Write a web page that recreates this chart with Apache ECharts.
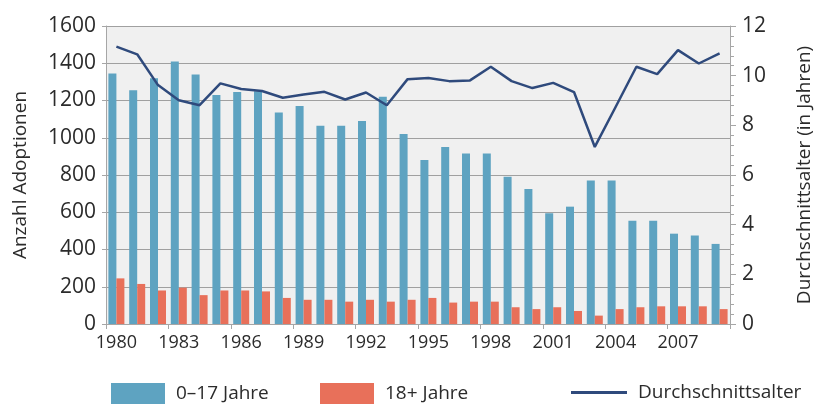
<!DOCTYPE html>
<html>
<head>
<meta charset="utf-8">
<script src="https://cdn.jsdelivr.net/npm/echarts@6/dist/echarts.min.js"></script>
<style>
  html, body { margin: 0; padding: 0; background: #fff; }
  #chart { width: 822px; height: 405px; }
</style>
</head>
<body>
<div id="chart"></div>
<script>
// Jahre 1980 - 2009
const years = [];
for (let y = 1980; y <= 2009; y++) years.push(String(y));

// Adoptionen 0-17 Jahre
const kinder = [1345, 1255, 1320, 1410, 1340, 1230, 1245, 1250, 1135, 1170,
                1065, 1065, 1090, 1220, 1020, 880, 950, 915, 915, 790,
                725, 595, 630, 770, 770, 555, 555, 485, 475, 430];

// Adoptionen 18+ Jahre
const erwachsene = [245, 215, 180, 195, 155, 180, 180, 175, 140, 130,
                    130, 120, 130, 120, 130, 140, 115, 120, 120, 90,
                    80, 90, 70, 45, 80, 90, 95, 95, 95, 80];

// Durchschnittsalter (in Jahren)
const alter = [11.17, 10.86, 9.62, 9.01, 8.81, 9.69, 9.46, 9.38, 9.11, 9.24,
               9.35, 9.04, 9.32, 8.81, 9.86, 9.91, 9.78, 9.81, 10.36, 9.78,
               9.50, 9.71, 9.34, 7.13, 8.74, 10.36, 10.06, 11.03, 10.49, 10.90];

const font = '"Open Sans", "Noto Sans", sans-serif';
const textColor = '#2b2b2b';
const axisGray = '#a6a6a6';
const blau = '#5ea3c1';
const rot = '#e8705a';
const navy = '#2f4a7c';

const chart = echarts.init(document.getElementById('chart'));

const legendText = { fontFamily: font, fontSize: 19, color: textColor, padding: [0, 0, 0, 6] };

chart.setOption({
    animation: false,
    textStyle: { fontFamily: font },
    grid: {
        left: 106, right: 80, top: 26, bottom: 81,
        show: true,
        backgroundColor: '#f0f0f0',
        borderWidth: 0
    },
    legend: [
        {
            data: [{ name: '0–17 Jahre', icon: 'rect' }], left: 106, top: 378,
            itemWidth: 54, itemHeight: 21, itemGap: 0,
            textStyle: legendText
        },
        {
            data: [{ name: '18+ Jahre', icon: 'rect' }], left: 315, top: 378,
            itemWidth: 54, itemHeight: 21, itemGap: 0,
            textStyle: legendText
        },
        {
            data: [{ name: 'Durchschnittsalter', icon: 'rect' }], left: 566, top: 378,
            itemWidth: 56, itemHeight: 3, itemGap: 0,
            itemStyle: { color: navy },
            textStyle: legendText
        }
    ],
    xAxis: {
        type: 'category',
        data: years,
        axisLine: { lineStyle: { color: axisGray, width: 1 } },
        axisTick: { show: true, interval: 2, length: 5, lineStyle: { color: axisGray } },
        axisLabel: {
            interval: 2, margin: 10,
            fontFamily: font, fontSize: 18, color: textColor
        },
        splitLine: { show: false }
    },
    yAxis: [
        {
            type: 'value',
            min: 0, max: 1600, interval: 200,
            name: 'Anzahl Adoptionen',
            nameLocation: 'middle',
            nameGap: 76,
            nameTextStyle: { fontFamily: font, fontSize: 19, color: textColor },
            axisLine: { show: true, lineStyle: { color: axisGray } },
            axisTick: { show: true, length: 4, lineStyle: { color: axisGray } },
            axisLabel: {
                margin: 10, fontFamily: font, fontSize: 21, color: textColor,
                formatter: v => String(v)
            },
            splitLine: { show: true, lineStyle: { color: '#a0a0a0', width: 1 } }
        },
        {
            type: 'value',
            min: 0, max: 12, interval: 2,
            name: 'Durchschnittsalter (in Jahren)',
            nameLocation: 'middle',
            nameGap: 65,
            nameRotate: 90,
            nameTextStyle: { fontFamily: font, fontSize: 19, color: textColor },
            axisLine: { show: true, lineStyle: { color: axisGray } },
            axisTick: { show: true, length: 6, lineStyle: { color: axisGray } },
            minorTick: { show: true, splitNumber: 5, length: 4, lineStyle: { color: axisGray } },
            axisLabel: { margin: 12, fontFamily: font, fontSize: 21, color: textColor },
            splitLine: { show: false }
        }
    ],
    series: [
        {
            name: '0–17 Jahre',
            type: 'bar',
            data: kinder,
            barWidth: 8,
            barGap: '0%',
            itemStyle: { color: blau }
        },
        {
            name: '18+ Jahre',
            type: 'bar',
            data: erwachsene,
            barWidth: 8,
            itemStyle: { color: rot }
        },
        {
            name: 'Durchschnittsalter',
            type: 'line',
            yAxisIndex: 1,
            data: alter,
            symbol: 'none',
            lineStyle: { color: navy, width: 2.5 },
            itemStyle: { color: navy }
        }
    ]
});
</script>
</body>
</html>
